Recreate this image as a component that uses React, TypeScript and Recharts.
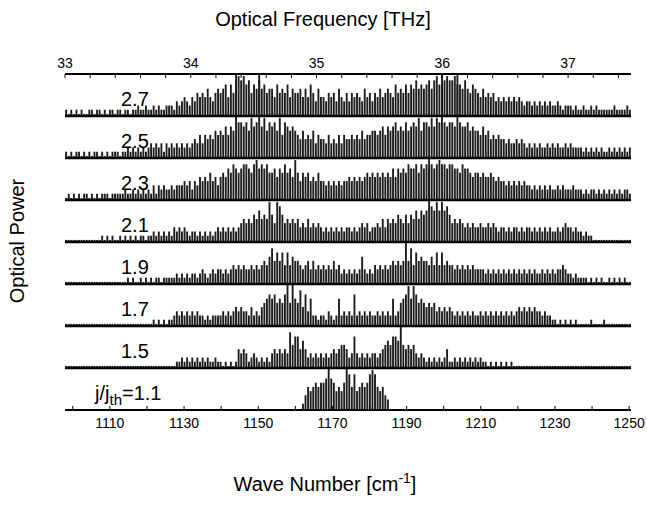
import React from 'react';
import { ComposedChart, Bar, XAxis, YAxis, ReferenceLine, ReferenceDot } from 'recharts';

const FONT = '"Liberation Sans", Arial, sans-serif';

// Fabry-Perot mode grid (wave number, cm^-1)
const MODE_START = 1098.3;
const MODE_STEP = 0.694;

const WAVE_DOMAIN = [1097.9, 1250.5];
const FREQ_DOMAIN = [33, 37.5];

const WAVE_TICKS = [1100, 1110, 1120, 1130, 1140, 1150, 1160, 1170, 1180, 1190, 1200, 1210, 1220, 1230, 1240, 1250];
const WAVE_LABELS = [1110, 1130, 1150, 1170, 1190, 1210, 1230, 1250];
const FREQ_TICKS = [33, 33.2, 33.4, 33.6, 33.8, 34, 34.2, 34.4, 34.6, 34.8, 35, 35.2, 35.4, 35.6, 35.8, 36, 36.2, 36.4, 36.6, 36.8, 37, 37.2, 37.4];
const FREQ_LABELS = [33, 34, 35, 36, 37];

// panel labels, top to bottom (last one is drawn as j/j_th=1.1)
const PANEL_LABELS = ['2.7', '2.5', '2.3', '2.1', '1.9', '1.7', '1.5', '1.1'];

// mode heights, one char per mode: 0-9 = tenths of a panel, T = full panel, B = two panels, . = no line
const P27 = '1010101001 1011010110 1101101121 1211212112 2213234324 3545464356 5674758989 7857686756 6475657465 5646475364 4354536435 3545436453 5464565475 6575768676 7868979898 8977686576 5464545343 4343434323 3232323232 2321222121 1211212111 1112111121';
const P25 = '1010110101 0110101011 1011212121 2123232313 2323232323 4353545465 657576B887 86978B7968 7869587676 5464546354 4353435354 4545464556 6567576786 7686787968 879798B878 87B8778676 6575645454 4343343432 3232322323 2322323222 2121212121 1212121212';
const P23 = '0101010110 1010111011 1112112121 2121313232 2323334342 4354546453 5657687678 8768978786 6757686759 6465645464 4343434344 5454545656 5656565757 6768778687 8787898878 8776877656 6565565454 4343434343 3232323232 2323222322 2121221212 1212121221';
const P21 = '0000000000 0000101010 0101010101 1011212121 2132323212 2121212123 2323232345 4546575659 6498645454 5343534343 2323232323 3232343423 3435354546 5464657576 7B87979786 4545434343 3433434323 3232332323 3232323232 2323433232 2121100000 0000000000';
const P19 = '0000000000 0000000000 0000101001 0101011011 1112121212 2123212323 3232343434 3343434546 8575747465 5434535343 4343534232 3232363232 4343434545 45T5847565 5464747454 4343434343 3332323232 3232323232 3232232323 2334322121 1110101010 0101010100';
const P17 = '0000000000 0000000000 0000000000 0000101010 1123232323 2322121222 2323234343 3242324567 675657T5T6 5847362212 2132126232 3272323232 2323232623 5679697565 4545343434 3232323232 2323232323 2323234343 4343323221 1010101010 0000100001 0000000000';
const P15 = '0000000000 0000000000 0000000000 0000000000 0001121212 1212121121 1010101434 3123212121 3434343857 7464232323 2323434554 2373232323 3234565776 T545453232 1212121241 1212121212 1211010101 0101000000 0000000000 0000000000 0000000000 0000000000';
const P11 = '.......... .......... .......... .......... .......... .......... .......... .......... .......... ..13545656 67T764546T 8584565689 854532.... .......... .......... .......... .......... .......... .......... .......... .......... ..........';

const PANELS = [P27, P25, P23, P21, P19, P17, P15, P11];

const level = (c: string) => {
  if (c === '.') return null;
  if (c === 'T') return 1;
  if (c === 'B') return 2;
  return (Number(c) + 0.5) / 10;
};

const heights = PANELS.map(s => s.replace(/ /g, '').split('').map(level));

const rows = heights[0].map((_, i) => {
  const row: any = { k: MODE_START + i * MODE_STEP };
  heights.forEach((h, t) => { row['p' + t] = h[i]; });
  return row;
});

const WaveTick = (props: any) => {
  const v = Math.round(props.payload.value);
  if (!WAVE_LABELS.includes(v)) return <g />;
  return <text x={props.x} y={props.y} textAnchor="middle" fontSize={14} fontFamily={FONT} fill="#000">{v}</text>;
};

const FreqTick = (props: any) => {
  const v = Math.round(props.payload.value * 10) / 10;
  if (!FREQ_LABELS.includes(v)) return <g />;
  return <text x={props.x} y={props.y} textAnchor="middle" fontSize={14} fontFamily={FONT} fill="#000">{v}</text>;
};

const panelLabel = (label: string) => (p: any) => {
  if (label === '1.1') {
    return (
      <text x={p.cx} y={p.cy} fontSize={20} fontFamily={FONT} fill="#000">
        j/j<tspan fontSize={15} dy={5}>th</tspan><tspan dy={-5}>=1.1</tspan>
      </text>
    );
  }
  return <text x={p.cx} y={p.cy} fontSize={20} fontFamily={FONT} fill="#000">{label}</text>;
};

export default function App() {
  return (
    <div style={{ position: 'absolute', left: 0, top: 0, width: 647, height: 524, background: '#fff', fontFamily: FONT }}>
      <ComposedChart width={647} height={524} data={rows} margin={{ top: 54, right: 16, bottom: 94, left: 65 }}>
        <XAxis
          xAxisId="wave"
          dataKey="k"
          type="number"
          domain={WAVE_DOMAIN}
          allowDataOverflow
          ticks={WAVE_TICKS}
          interval={0}
          height={20}
          tickSize={-4}
          tickMargin={22}
          tick={WaveTick}
          axisLine={{ stroke: '#000', strokeWidth: 2 }}
          tickLine={{ stroke: '#000' }}
        />
        <XAxis
          xAxisId="freq"
          dataKey="k"
          orientation="top"
          type="number"
          domain={FREQ_DOMAIN}
          allowDataOverflow
          ticks={FREQ_TICKS}
          interval={0}
          height={20}
          tickSize={-4}
          tickMargin={10}
          tick={FreqTick}
          axisLine={{ stroke: '#000', strokeWidth: 2 }}
          tickLine={{ stroke: '#000' }}
        />
        <YAxis yAxisId="frame" domain={[0, 8]} allowDataOverflow width={0} tick={false} tickLine={false}
          axisLine={{ stroke: '#000', strokeWidth: 1.5 }} />
        <YAxis yAxisId="frameR" orientation="right" domain={[0, 8]} allowDataOverflow width={0} tick={false} tickLine={false}
          axisLine={{ stroke: '#000', strokeWidth: 1.5 }} />

        {PANELS.map((_, t) => (
          <XAxis key={'x' + t} xAxisId={'x' + t} type="number" dataKey="k" domain={WAVE_DOMAIN} allowDataOverflow hide />
        ))}
        {PANELS.map((_, t) => (
          <YAxis key={'y' + t} yAxisId={'y' + t} domain={[t - 7, t + 1]} allowDataOverflow hide />
        ))}
        {PANELS.map((_, t) => (
          <Bar
            key={'b' + t}
            xAxisId={'x' + t}
            yAxisId={'y' + t}
            dataKey={'p' + t}
            fill="#1e1e1e"
            barSize={1.9}
            isAnimationActive={false}
          />
        ))}

        {[1, 2, 3, 4, 5, 6, 7].map(y => (
          <ReferenceLine key={'d' + y} xAxisId="wave" yAxisId="frame" y={y} stroke="#000" strokeWidth={2.5} />
        ))}

        {PANEL_LABELS.map((label, t) => (
          <ReferenceDot
            key={'l' + t}
            xAxisId="wave"
            yAxisId="frame"
            x={label === '1.1' ? 1106 : 1113}
            y={7 - t + 0.24}
            r={0}
            shape={panelLabel(label)}
          />
        ))}
      </ComposedChart>
      <svg width={647} height={524} style={{ position: 'absolute', left: 0, top: 0, pointerEvents: 'none' }}>
        <text x={323} y={26} textAnchor="middle" fontSize={20} fontFamily={FONT} fill="#000">Optical Frequency [THz]</text>
        <text x={24} y={241} textAnchor="middle" fontSize={20} fontFamily={FONT} fill="#000" transform="rotate(-90 24 241)">Optical Power</text>
        <text x={325} y={491} textAnchor="middle" fontSize={20} fontFamily={FONT} fill="#000">
          Wave Number [cm<tspan fontSize={14} dy={-8}>-1</tspan><tspan dy={8}>]</tspan>
        </text>
      </svg>
    </div>
  );
}
